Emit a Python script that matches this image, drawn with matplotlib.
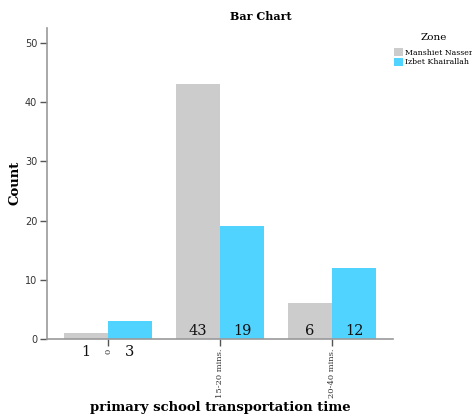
import matplotlib
matplotlib.use("Agg")
import matplotlib.pyplot as plt
import numpy as np
from matplotlib.patches import Patch

categories = ["0", "15-20 mins.", "20-40 mins."]
zones = ["Manshiet Nasser", "Izbet Khairallah"]
manshiet = [1, 43, 6]
izbet = [3, 19, 12]
yticks = [0, 10, 20, 30, 40, 50]

gray = "#cccccc"
blue = "#50d3ff"
serif = ["DejaVu Serif"]

fig = plt.figure(figsize=(4.72, 4.17), dpi=100)
ax = fig.add_axes([47/472, 78/417, (393-47)/472, (339-28)/417])

x = np.arange(len(categories))
w = 0.393
ax.bar(x - w/2, manshiet, w, color=gray, zorder=2)
ax.bar(x + w/2, izbet, w, color=blue, zorder=2)

ax.set_xlim(-0.545, 2.545)
ax.set_ylim(0, 52.5)

# value labels
label_y = [-2.2, 1.35, 1.4]
for i in range(len(categories)):
    ax.text(x[i] - w/2, label_y[i], str(manshiet[i]), ha="center", va="center",
            fontsize=10.5, family=serif, color="#111111", clip_on=False, zorder=3)
    ax.text(x[i] + w/2, label_y[i], str(izbet[i]), ha="center", va="center",
            fontsize=10.5, family=serif, color="#111111", clip_on=False, zorder=3)

for s in ["top", "right"]:
    ax.spines[s].set_visible(False)
for s in ["left", "bottom"]:
    ax.spines[s].set_color("#999999")
    ax.spines[s].set_linewidth(1.2)

ax.set_yticks(yticks)
ax.set_yticklabels([str(v) for v in yticks], fontsize=7, color="#333333", family=["DejaVu Sans"])
ax.set_xticks(x)
ax.set_xticklabels(categories, rotation=90, fontsize=6, family=serif, color="#333333")
ax.tick_params(axis="both", direction="out", length=5, width=1, color="#555555", pad=2)

fig.text(261/472, 1 - 17/417, "Bar Chart", ha="center", va="center",
         fontsize=8, fontweight="bold", family=serif)
fig.text(15/472, 1 - 183/417, "Count", ha="center", va="center", rotation=90,
         fontsize=9.5, fontweight="bold", family=serif)
fig.text(220/472, 1 - 407/417, "primary school transportation time", ha="center",
         va="center", fontsize=9.5, fontweight="bold", family=serif)

fig.text(434/472, 1 - 38/417, "Zone", ha="center", va="center",
         fontsize=7.5, family=serif)
handles = [Patch(facecolor=gray, edgecolor="none"), Patch(facecolor=blue, edgecolor="none")]
fig.legend(handles, zones, loc="upper left",
           bbox_to_anchor=(394/472, 1 - 48/417), frameon=False,
           prop={"family": serif, "size": 5.6},
           handlelength=1.1, handleheight=1.2, handletextpad=0.3,
           labelspacing=0.15, borderaxespad=0, borderpad=0)

fig.savefig("out.png", dpi=100)
